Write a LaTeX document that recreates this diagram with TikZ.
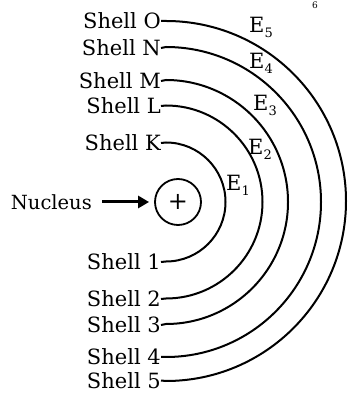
\documentclass[tikz,border=0pt]{standalone}
\usepackage{fontspec}
\setmainfont{DejaVu Serif}
\usetikzlibrary{arrows.meta}
\begin{document}
\begin{tikzpicture}[x=1pt,y=1pt,
  lbl/.style={anchor=east,inner sep=0pt,font=\fontsize{21}{25}\selectfont},
  elbl/.style={inner sep=0pt,font=\fontsize{21}{25}\selectfont},
  shellline/.style={line width=2pt}]
\useasboundingbox (0,0) rectangle (352,393);
% shell labels (top)
\node[lbl] (O) at (161,372) {Shell O};
\node[lbl] (N) at (161,345) {Shell N};
\node[lbl] (M) at (161,312) {Shell M};
\node[lbl] (L) at (161,287) {Shell L};
\node[lbl] (K) at (161,250) {Shell K};
% shell labels (bottom)
\node[lbl] (s1) at (161,131) {Shell 1};
\node[lbl] (s2) at (161,94) {Shell 2};
\node[lbl] (s3) at (161,68) {Shell 3};
\node[lbl] (s4) at (161,36) {Shell 4};
\node[lbl] (s5) at (161,12.5) {Shell 5};
% arcs
\draw[shellline] (K.east) -- (166,250.5) arc[start angle=90,end angle=-90,radius=59.5pt] -- (s1.east);
\draw[shellline] (L.east) -- (166,287.5) arc[start angle=90,end angle=-90,radius=96.5pt] -- (s2.east);
\draw[shellline] (M.east) -- (166,313) arc[start angle=90,end angle=-90,radius=122pt] -- (s3.east);
\draw[shellline] (N.east) -- (166,346) arc[start angle=90,end angle=-90,radius=155pt] -- (s4.east);
\draw[shellline] (O.east) -- (166,372) arc[start angle=90,end angle=-90,radius=180pt] -- (s5.east);
% nucleus
\node[circle,draw,line width=1.8pt,minimum size=46pt,inner sep=0pt,font=\fontsize{24}{28}\selectfont] (nuc) at (178,191) {+};
\node[lbl,font=\fontsize{19.5}{24}\selectfont] (nl) at (92,191) {Nucleus};
\draw[line width=3pt,-{Triangle[length=11pt,width=12pt]},shorten <=10pt,shorten >=5pt] (nl.east) -- (nuc.west);
% energy labels
\node[elbl] (E5) at (261,366) {E\raisebox{-5pt}{\fontsize{13}{13}\selectfont 5}};
\node[elbl] (E4) at (261,330) {E\raisebox{-5pt}{\fontsize{13}{13}\selectfont 4}};
\node[elbl] (E3) at (265,288) {E\raisebox{-5pt}{\fontsize{13}{13}\selectfont 3}};
\node[elbl] (E2) at (260,244) {E\raisebox{-5pt}{\fontsize{13}{13}\selectfont 2}};
\node[elbl] (E1) at (238,208) {E\raisebox{-5pt}{\fontsize{13}{13}\selectfont 1}};
% page number
\node[inner sep=0pt,font=\fontsize{9}{10}\selectfont] (pg) at (315,388) {6};
\end{tikzpicture}
\end{document}
